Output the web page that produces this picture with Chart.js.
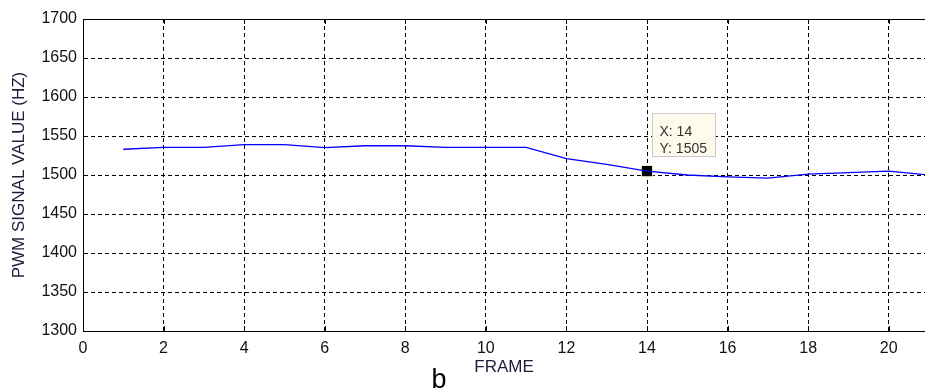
<!DOCTYPE html>
<html>
<head>
<meta charset="utf-8">
<script src="https://cdn.jsdelivr.net/npm/chart.js@4.4.1/dist/chart.umd.min.js"></script>
<style>
  html, body { margin: 0; padding: 0; background: #fff; }
  #wrap { width: 925px; height: 391px; }
</style>
</head>
<body>
<div id="wrap"><canvas id="pwmChart" width="925" height="391"></canvas></div>
<script>
// values
const frames = [1, 2, 3, 4, 5, 6, 7, 8, 9, 10, 11, 12, 13, 14, 15, 16, 17, 18, 19, 20, 21];
const pwmValues = [1533, 1535.5, 1535.5, 1539, 1539, 1535, 1537.5, 1537.5, 1535.5, 1535.5, 1535.5,
                   1521, 1513.5, 1505, 1500, 1497.5, 1496, 1501, 1503, 1505, 1500];
const xTicks = [0, 2, 4, 6, 8, 10, 12, 14, 16, 18, 20];
const yTicks = [1300, 1350, 1400, 1450, 1500, 1550, 1600, 1650, 1700];
const tipFrame = 14;
const tipValue = 1505;

const ctx = document.getElementById('pwmChart');

/* matlab look: inner tick marks, top box line, data tip, caption */
const matlabAxes = {
    id: 'matlabAxes',
    afterDraw(chart) {
        const c = chart.ctx;
        const a = chart.chartArea;
        const x = chart.scales.x;
        const y = chart.scales.y;
        c.save();
        c.strokeStyle = '#000';
        c.lineWidth = 1;
        c.beginPath();
        c.moveTo(a.left, a.top + 0.5);
        c.lineTo(a.right, a.top + 0.5);
        xTicks.forEach(v => {
            const px = Math.round(x.getPixelForValue(v)) + 0.5;
            c.moveTo(px, a.bottom);
            c.lineTo(px, a.bottom - 5);
            c.moveTo(px, a.top);
            c.lineTo(px, a.top + 5);
        });
        yTicks.forEach(v => {
            const py = Math.round(y.getPixelForValue(v)) + 0.5;
            c.moveTo(a.left, py);
            c.lineTo(a.left + 5, py);
        });
        c.stroke();

        // data tip box
        const pt = chart.getDatasetMeta(1).data[0];
        const bx = Math.round(pt.x) + 5.5;
        const by = Math.round(pt.y) - 57.5;
        c.fillStyle = '#fffbec';
        c.fillRect(bx, by, 63, 43);
        c.strokeStyle = '#c9c9c9';
        c.strokeRect(bx, by, 63, 43);
        c.fillStyle = '#333';
        c.font = '14px "Liberation Sans", Arial, sans-serif';
        c.textAlign = 'left';
        c.textBaseline = 'alphabetic';
        c.fillText('X: ' + tipFrame, bx + 7, by + 22);
        c.fillText('Y: ' + tipValue, bx + 7, by + 39);

        // figure caption
        c.fillStyle = '#000';
        c.font = '27px "Liberation Sans", Arial, sans-serif';
        c.textAlign = 'center';
        c.fillText('b', 439, 388);
        c.restore();
    }
};

const data = {
    datasets: [
        {
            label: 'PWM',
            data: frames.map((f, i) => ({ x: f, y: pwmValues[i] })),
            borderColor: '#0000ff',
            borderWidth: 1.3,
            pointRadius: 0,
            tension: 0
        },
        {
            label: 'tip',
            data: [{ x: tipFrame, y: tipValue }],
            showLine: false,
            pointStyle: 'rect',
            pointRadius: 8,
            backgroundColor: '#000',
            borderColor: '#fff6dc',
            borderWidth: 1
        }
    ]
};

const tickFont = { family: '"Liberation Sans", Arial, sans-serif', size: 16 };
const titleFont = { family: '"Liberation Sans", Arial, sans-serif', size: 17 };

const options = {
    responsive: false,
    animation: false,
    layout: { autoPadding: false, padding: { top: 19, left: 0, right: 0, bottom: 0 } },
    plugins: {
        legend: { display: false },
        tooltip: { enabled: false }
    },
    scales: {
        x: {
            type: 'linear',
            min: 0,
            max: 20.9,
            afterBuildTicks: s => { s.ticks = xTicks.map(v => ({ value: v })); },
            afterFit: s => { s.height = 60; s.paddingRight = 0; s.paddingLeft = 0; },
            grid: { color: '#000', lineWidth: 1, drawTicks: false },
            border: { display: true, color: '#000', width: 1, dash: [4, 3] },
            ticks: { color: '#111', font: tickFont, padding: 8, maxRotation: 0, callback: v => String(v) },
            title: {
                display: true,
                text: 'FRAME',
                color: '#1e1e3c',
                font: titleFont,
                padding: { top: 0, bottom: 13 }
            }
        },
        y: {
            min: 1300,
            max: 1700,
            afterBuildTicks: s => { s.ticks = yTicks.map(v => ({ value: v })); },
            afterFit: s => { s.width = 83; },
            grid: { color: '#000', lineWidth: 1, drawTicks: false },
            border: { display: true, color: '#000', width: 1, dash: [4, 3] },
            ticks: { color: '#111', font: tickFont, padding: 6, callback: v => String(v) },
            title: {
                display: true,
                text: 'PWM SIGNAL VALUE (HZ)',
                color: '#1e1e3c',
                font: titleFont,
                padding: { top: 9, bottom: 0 }
            }
        }
    }
};

const pwmChart = new Chart(ctx, {
    type: 'line',
    data: data,
    options: options,
    plugins: [matlabAxes]
});
</script>
</body>
</html>
